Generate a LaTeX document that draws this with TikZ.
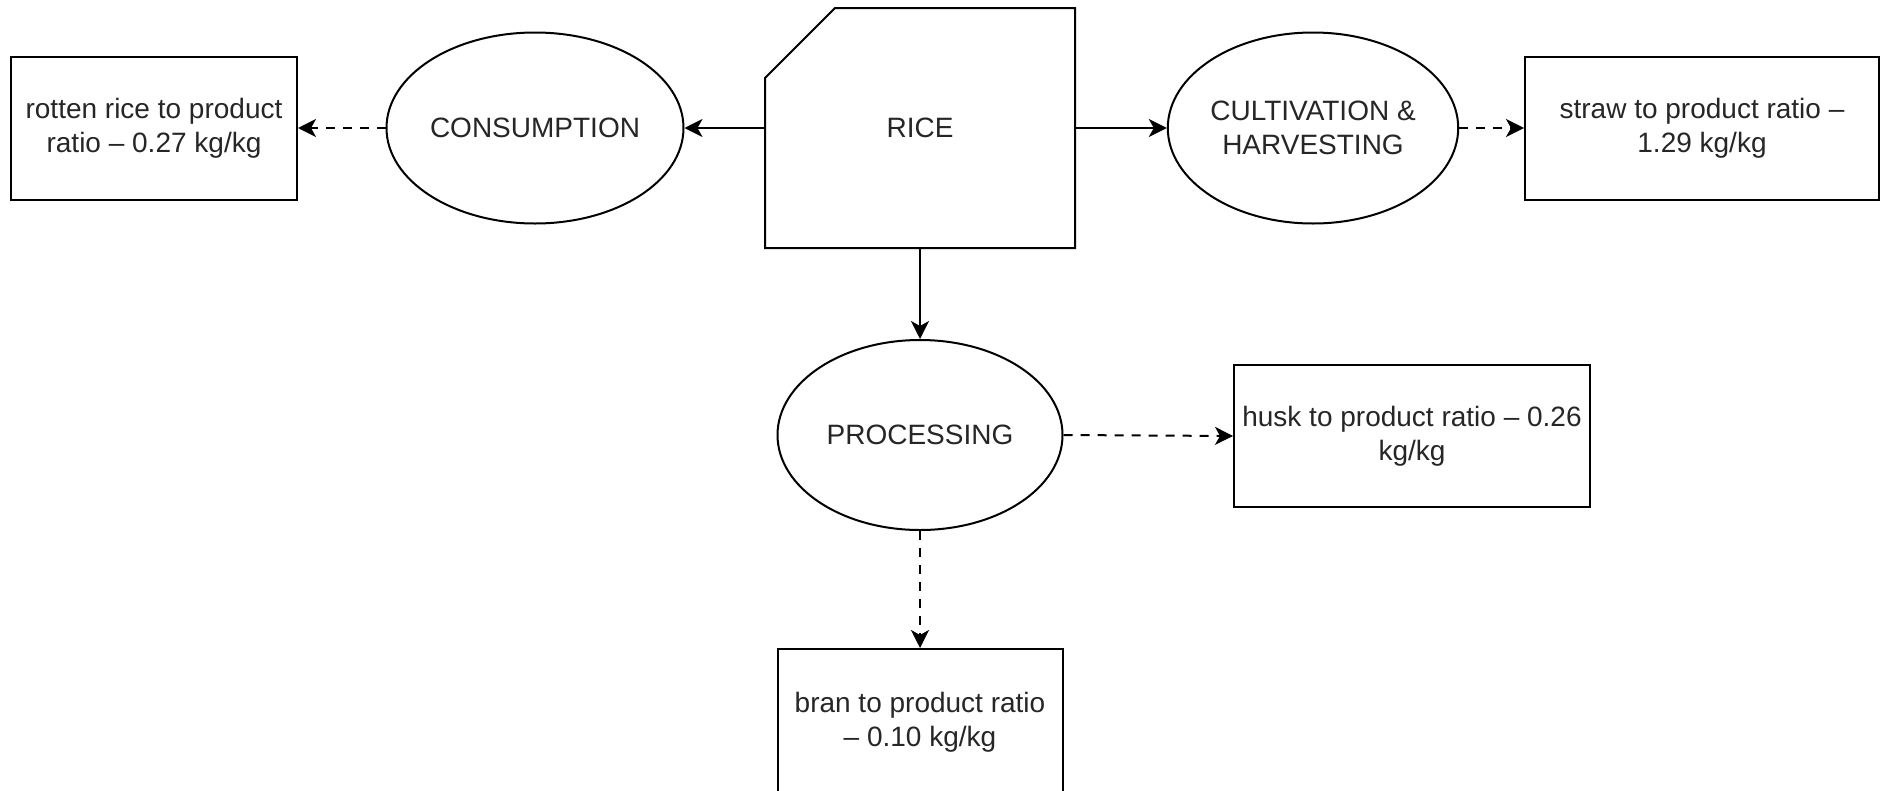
\documentclass[tikz,border=0pt]{standalone}
\usepackage{fontspec}
\setmainfont{Liberation Sans}
\usetikzlibrary{shapes.geometric,arrows.meta}
\tikzset{
  base/.style={font=\fontsize{28}{34}\selectfont, text=black!85, align=center, line width=2pt, inner sep=0pt},
  boxnode/.style={base, draw, rectangle},
  ellnode/.style={base, draw, ellipse},
  solidarrow/.style={line width=2pt, -{Stealth[length=18pt,width=18pt,inset=5pt]}},
  dasharrow/.style={solidarrow, dash pattern=on 9pt off 8pt}
}
\begin{document}
\begin{tikzpicture}[x=1pt,y=-1pt]
\useasboundingbox (0,0) rectangle (1881,790);
\fill[white] (0,0) rectangle (1881,790);
% nodes
\node[boxnode, minimum width=286pt, minimum height=143pt] (rotten) at (154,128) {rotten rice to product\\ratio -- 0.27 kg/kg};
\node[ellnode, minimum width=284pt, minimum height=191pt] (cons) at (535,128) {CONSUMPTION};
\node[base, draw=none, rectangle, minimum width=308pt, minimum height=238pt] (rice) at (920,128) {RICE};
\draw[line width=2pt, line join=miter] ([xshift=70pt]rice.north west) -- (rice.north east) -- (rice.south east) -- (rice.south west) -- ([yshift=-70pt]rice.north west) -- cycle;
\node[ellnode, minimum width=284pt, minimum height=191pt] (cult) at (1313,128) {CULTIVATION \&\\HARVESTING};
\node[boxnode, minimum width=354pt, minimum height=143pt] (straw) at (1702,128) {straw to product ratio --\\1.29 kg/kg};
\node[ellnode, minimum width=285pt, minimum height=190pt] (proc) at (920,435) {PROCESSING};
\node[boxnode, minimum width=356pt, minimum height=142pt] (husk) at (1412,436) {husk to product ratio -- 0.26\\kg/kg};
\node[boxnode, minimum width=285pt, minimum height=146pt] (bran) at (920,722) {bran to product ratio\\-- 0.10 kg/kg};
% connectors
\draw[solidarrow] (rice.west) -- (cons.east);
\draw[dasharrow] (cons.west) -- (rotten.east);
\draw[solidarrow] (rice.east) -- (cult.west);
\draw[dasharrow] (cult.east) -- (straw.west);
\draw[solidarrow] (rice.south) -- (proc.north);
\draw[dasharrow] (proc.east) -- (husk.west);
\draw[dasharrow] (proc.south) -- (bran.north);
\end{tikzpicture}
\end{document}
